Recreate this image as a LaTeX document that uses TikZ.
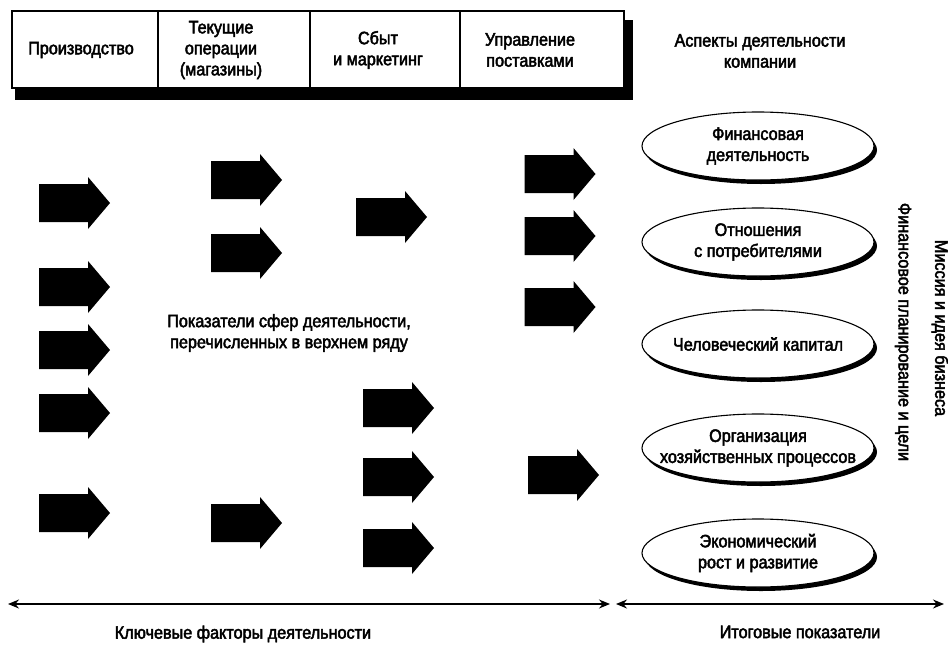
\documentclass[tikz,border=0pt]{standalone}
\usepackage{fontspec}
\setmainfont{Liberation Sans}[FakeStretch=0.9,FakeBold=2.5]
\usetikzlibrary{arrows.meta,shapes.geometric,shadows}

\tikzset{
  txt/.style={font=\fontsize{18}{21}\selectfont},
  lbl/.style={txt, inner sep=0pt, align=center},
  aspect/.style={ellipse, draw, line width=1.1pt, fill=white,
    minimum width=232pt, minimum height=68pt, inner sep=0pt,
    drop shadow={shadow xshift=3pt, shadow yshift=-4pt, opacity=1, fill=black}},
  blockarrow/.pic={
    \fill[black] (-35.5,-19) -- (13.5,-19) -- (13.5,-26) -- (35.5,0)
      -- (13.5,26) -- (13.5,19) -- (-35.5,19) -- cycle;},
  span/.style={line width=1.4pt, {Stealth[length=11pt,width=9pt]}-{Stealth[length=11pt,width=9pt]}}
}

\begin{document}
\begin{tikzpicture}[x=1pt, y=-1pt]
  \useasboundingbox (0,0) rectangle (948,645);

  % header strip with its shadow
  \fill[black] (15,20) rectangle (633,100);
  \draw[line width=1.1pt, fill=white] (12,11) rectangle (624,88);
  \foreach \xd in {158,310,460} \draw[line width=1.1pt] (\xd,11) -- (\xd,88);

  \node[lbl] (h1) at (81,50) {Производство};
  \node[lbl] (h2) at (221,50) {Текущие\\операции\\(магазины)};
  \node[lbl] (h3) at (378,50) {Сбыт\\и маркетинг};
  \node[lbl] (h4) at (530,50) {Управление\\поставками};
  \node[lbl] (h5) at (760,51) {Аспекты деятельности\\компании};

  % block arrows, column by column
  \foreach \yy in {203,287,350,413,513} \pic at (74.5,\yy) {blockarrow};
  \foreach \yy in {180,253,523} \pic at (246.5,\yy) {blockarrow};
  \pic at (391.5,217) {blockarrow};
  \foreach \yy in {408,477,548} \pic at (398.5,\yy) {blockarrow};
  \foreach \yy in {174,236,307} \pic at (560,\yy) {blockarrow};
  \pic at (563.5,475) {blockarrow};

  \node[lbl] (mid) at (289,333) {Показатели сфер деятельности,\\перечисленных в верхнем ряду};

  % aspects of the business: fixed-size ellipses, text laid over them
  \node[aspect, label={[lbl]center:Финансовая\\деятельность}] (e1) at (758,146) {};
  \node[aspect, label={[lbl]center:Отношения\\с потребителями}] (e2) at (758,242) {};
  \node[aspect, label={[lbl]center:Человеческий капитал}] (e3) at (758,344) {};
  \node[aspect, label={[lbl]center:Организация\\хозяйственных процессов}] (e4) at (758,448) {};
  \node[aspect, label={[lbl]center:Экономический\\рост и развитие}] (e5) at (758,553) {};

  % side captions
  \node[lbl, rotate=-90] (plan) at (903,332) {Финансовое планирование и цели};
  \node[lbl, rotate=-90] (mission) at (940,328) {Миссия и идея бизнеса};

  % bottom spans
  \coordinate (k1) at (8,604);
  \coordinate (k2) at (610,604);
  \coordinate (r1) at (616,604);
  \coordinate (r2) at (944,604);
  \draw[span] (k1) -- (k2);
  \draw[span] (r1) -- (r2);
  \node[lbl] (key) at (243,634) {Ключевые факторы деятельности};
  \node[lbl] (res) at (800,632) {Итоговые показатели};
\end{tikzpicture}
\end{document}
